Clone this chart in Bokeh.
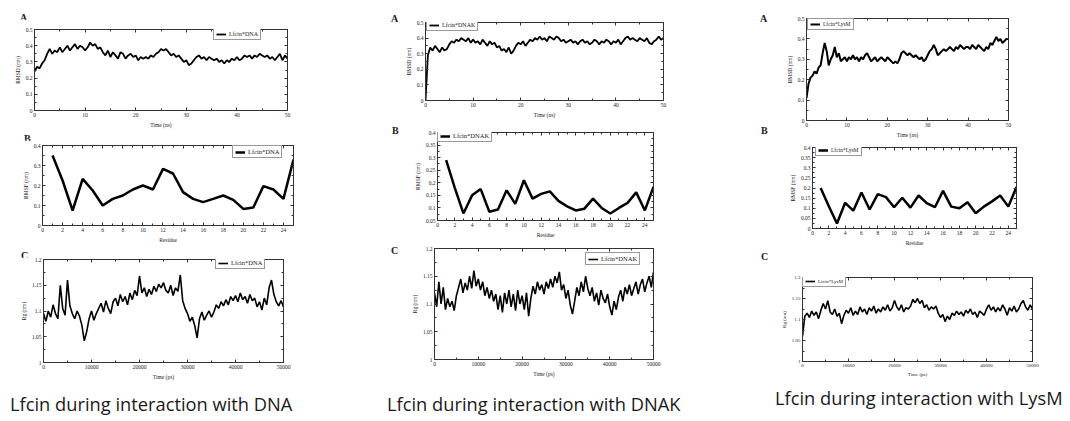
import numpy as np
from bokeh.plotting import figure
from bokeh.layouts import row, column
from bokeh.models import Range1d, LinearAxis, FixedTicker, NumeralTickFormatter, Div, Spacer
from bokeh.embed import file_html
from bokeh.resources import INLINE

# ---------------- data ----------------
TIME_NS = np.linspace(0, 50, 101)
TIME_PS = np.linspace(0, 50000, 101)
RESIDUES = list(range(1, 26))

RMSD_DNA = [
    0.24, 0.27, 0.26, 0.29, 0.31, 0.35, 0.38, 0.35, 0.37, 0.36,
    0.39, 0.36, 0.38, 0.40, 0.37, 0.39, 0.41, 0.38, 0.40, 0.39,
    0.37, 0.39, 0.42, 0.40, 0.41, 0.38, 0.39, 0.36, 0.34, 0.37,
    0.33, 0.36, 0.34, 0.32, 0.36, 0.35, 0.32, 0.34, 0.35, 0.33,
    0.34, 0.31, 0.33, 0.32, 0.33, 0.32, 0.34, 0.33, 0.35, 0.36,
    0.38, 0.37, 0.38, 0.36, 0.34, 0.35, 0.33, 0.34, 0.32, 0.30,
    0.31, 0.28, 0.29, 0.31, 0.33, 0.34, 0.32, 0.33, 0.31, 0.33,
    0.32, 0.31, 0.32, 0.30, 0.31, 0.29, 0.31, 0.30, 0.32, 0.31,
    0.33, 0.31, 0.32, 0.34, 0.33, 0.34, 0.32, 0.34, 0.33, 0.35,
    0.34, 0.33, 0.34, 0.32, 0.33, 0.31, 0.33, 0.35, 0.31, 0.34,
    0.32]
RMSD_DNAK = [
    0.00, 0.29, 0.34, 0.32, 0.35, 0.33, 0.31, 0.34, 0.32, 0.33,
    0.36, 0.38, 0.37, 0.39, 0.38, 0.40, 0.39, 0.38, 0.40, 0.37,
    0.39, 0.37, 0.38, 0.36, 0.39, 0.37, 0.35, 0.38, 0.36, 0.37,
    0.34, 0.35, 0.32, 0.33, 0.31, 0.34, 0.30, 0.32, 0.35, 0.37,
    0.36, 0.38, 0.35, 0.37, 0.39, 0.38, 0.40, 0.39, 0.41, 0.39,
    0.40, 0.38, 0.41, 0.40, 0.39, 0.41, 0.40, 0.38, 0.39, 0.37,
    0.38, 0.39, 0.37, 0.38, 0.36, 0.38, 0.39, 0.37, 0.38, 0.36,
    0.37, 0.39, 0.38, 0.36, 0.38, 0.37, 0.39, 0.38, 0.36, 0.38,
    0.37, 0.39, 0.36, 0.38, 0.40, 0.41, 0.39, 0.40, 0.39, 0.38,
    0.40, 0.39, 0.38, 0.40, 0.37, 0.36, 0.38, 0.39, 0.41, 0.39,
    0.40]
RMSD_LYSM = [
    0.11, 0.18, 0.21, 0.22, 0.24, 0.23, 0.26, 0.27, 0.33, 0.38,
    0.34, 0.27, 0.30, 0.32, 0.36, 0.31, 0.33, 0.29, 0.30, 0.31,
    0.29, 0.31, 0.30, 0.32, 0.30, 0.31, 0.29, 0.31, 0.30, 0.32,
    0.33, 0.31, 0.29, 0.30, 0.31, 0.29, 0.30, 0.31, 0.30, 0.29,
    0.31, 0.30, 0.29, 0.28, 0.29, 0.28, 0.30, 0.33, 0.34, 0.33,
    0.32, 0.33, 0.32, 0.31, 0.32, 0.31, 0.30, 0.31, 0.29, 0.30,
    0.32, 0.34, 0.35, 0.37, 0.35, 0.32, 0.33, 0.34, 0.35, 0.34,
    0.35, 0.36, 0.35, 0.34, 0.36, 0.35, 0.37, 0.36, 0.35, 0.36,
    0.36, 0.35, 0.37, 0.36, 0.35, 0.37, 0.36, 0.35, 0.34, 0.36,
    0.35, 0.38, 0.37, 0.39, 0.41, 0.39, 0.40, 0.38, 0.39, 0.40,
    0.40]

RMSF_DNA = [0.35, 0.225, 0.075, 0.233, 0.175, 0.10, 0.133, 0.15, 0.18, 0.20,
            0.18, 0.283, 0.26, 0.167, 0.133, 0.117, 0.133, 0.15, 0.128, 0.083,
            0.09, 0.197, 0.18, 0.133, 0.33]
RMSF_DNAK = [0.29, 0.18, 0.078, 0.15, 0.175, 0.085, 0.094, 0.17, 0.116, 0.21,
             0.137, 0.156, 0.166, 0.128, 0.106, 0.09, 0.097, 0.137, 0.10, 0.078,
             0.10, 0.12, 0.162, 0.09, 0.184]
RMSF_LYSM = [0.20, 0.11, 0.025, 0.127, 0.088, 0.178, 0.094, 0.17, 0.155, 0.105,
             0.152, 0.103, 0.163, 0.125, 0.105, 0.186, 0.108, 0.10, 0.13, 0.075,
             0.108, 0.134, 0.163, 0.108, 0.205]

RG_DNA = [
    1.095, 1.080, 1.100, 1.088, 1.112, 1.095, 1.085, 1.150, 1.105, 1.092,
    1.160, 1.110, 1.095, 1.085, 1.100, 1.090, 1.072, 1.042, 1.060, 1.085,
    1.100, 1.082, 1.095, 1.105, 1.115, 1.098, 1.120, 1.105, 1.095, 1.118,
    1.125, 1.110, 1.132, 1.118, 1.128, 1.112, 1.135, 1.122, 1.140, 1.130,
    1.168, 1.135, 1.145, 1.128, 1.142, 1.132, 1.148, 1.138, 1.152, 1.145,
    1.155, 1.140, 1.135, 1.150, 1.130, 1.145, 1.138, 1.170, 1.120, 1.105,
    1.095, 1.080, 1.088, 1.072, 1.048, 1.085, 1.098, 1.082, 1.092, 1.100,
    1.088, 1.098, 1.112, 1.105, 1.118, 1.110, 1.122, 1.112, 1.128, 1.120,
    1.130, 1.118, 1.135, 1.122, 1.128, 1.115, 1.132, 1.120, 1.125, 1.108,
    1.118, 1.102, 1.125, 1.112, 1.145, 1.160, 1.132, 1.118, 1.110, 1.120,
    1.108]
RG_DNAK = [
    1.120, 1.095, 1.140, 1.100, 1.130, 1.090, 1.110, 1.095, 1.105, 1.088,
    1.115, 1.130, 1.145, 1.120, 1.138, 1.125, 1.150, 1.128, 1.160, 1.132,
    1.145, 1.125, 1.140, 1.115, 1.130, 1.110, 1.125, 1.105, 1.118, 1.090,
    1.115, 1.085, 1.120, 1.100, 1.125, 1.095, 1.118, 1.088, 1.125, 1.100,
    1.115, 1.090, 1.120, 1.078, 1.110, 1.132, 1.118, 1.140, 1.125, 1.135,
    1.118, 1.140, 1.128, 1.145, 1.130, 1.150, 1.138, 1.158, 1.125, 1.135,
    1.110, 1.125, 1.098, 1.082, 1.105, 1.130, 1.115, 1.140, 1.122, 1.150,
    1.128, 1.115, 1.130, 1.105, 1.120, 1.098, 1.125, 1.110, 1.102, 1.118,
    1.095, 1.080, 1.105, 1.090, 1.112, 1.125, 1.105, 1.130, 1.118, 1.135,
    1.115, 1.128, 1.140, 1.118, 1.135, 1.145, 1.122, 1.138, 1.150, 1.130,
    1.158]
RG_LYSM = [
    1.060, 1.108, 1.115, 1.105, 1.120, 1.110, 1.118, 1.102, 1.122, 1.138,
    1.125, 1.145, 1.118, 1.112, 1.125, 1.108, 1.115, 1.090, 1.110, 1.122,
    1.115, 1.128, 1.110, 1.120, 1.112, 1.130, 1.118, 1.125, 1.112, 1.128,
    1.120, 1.132, 1.115, 1.125, 1.118, 1.130, 1.122, 1.135, 1.120, 1.128,
    1.145, 1.130, 1.122, 1.135, 1.118, 1.128, 1.125, 1.132, 1.148, 1.140,
    1.150, 1.138, 1.145, 1.128, 1.135, 1.122, 1.130, 1.125, 1.132, 1.115,
    1.105, 1.112, 1.095, 1.108, 1.100, 1.115, 1.110, 1.120, 1.112, 1.118,
    1.108, 1.122, 1.115, 1.125, 1.112, 1.118, 1.105, 1.120, 1.115, 1.110,
    1.125, 1.135, 1.122, 1.130, 1.118, 1.128, 1.120, 1.135, 1.125, 1.110,
    1.128, 1.120, 1.132, 1.118, 1.125, 1.138, 1.145, 1.130, 1.122, 1.135,
    1.125]

LEGEND_DNA = "Lfcin*DNA"
LEGEND_DNAK = "Lfcin*DNAK"
LEGEND_LYSM = "Lfcin*LysM"
CAPTIONS = ["Lfcin during interaction with DNA",
            "Lfcin during interaction with DNAK",
            "Lfcin during interaction with LysM"]
LETTERS = ["A", "B", "C"]

TICKS_TIME_NS = [0, 10, 20, 30, 40, 50]
TICKS_TIME_PS = [0, 10000, 20000, 30000, 40000, 50000]
TICKS_RES = [0, 2, 4, 6, 8, 10, 12, 14, 16, 18, 20, 22, 24]
TICKS_RMSD = [0, 0.1, 0.2, 0.3, 0.4, 0.5]
TICKS_RMSF_A = [0, 0.1, 0.2, 0.3, 0.4]
TICKS_RMSF_B = [0.05, 0.1, 0.15, 0.2, 0.25, 0.3, 0.35, 0.4]
TICKS_RMSF_C = [0, 0.05, 0.1, 0.15, 0.2, 0.25, 0.3, 0.35, 0.4]
TICKS_RG = [1, 1.05, 1.1, 1.15, 1.2]

SERIF = "Liberation Serif"
FRAME = "#333333"


def minor_between(ticks):
    return [(a + b) / 2.0 for a, b in zip(ticks[:-1], ticks[1:])]


def panel(w, h, L, R, T, B, xr, yr, xticks, yticks, xminor, yminor,
          xlabel, ylabel, fs="5.5px"):
    p = figure(width=w, height=h, output_backend="svg", toolbar_location=None,
               x_range=Range1d(*xr), y_range=Range1d(*yr),
               x_axis_type=None, y_axis_type=None,
               min_border_left=L, min_border_right=R,
               min_border_top=T, min_border_bottom=B)
    p.frame_align = False
    p.outline_line_color = FRAME
    p.outline_line_width = 1
    p.background_fill_color = "white"
    p.border_fill_color = "white"
    for loc in ["below", "above", "left", "right"]:
        if loc in ("below", "above"):
            ticks, minor = xticks, xminor
            fmt = NumeralTickFormatter(format="0")
        else:
            ticks, minor = yticks, yminor
            fmt = NumeralTickFormatter(format="0.[00]")
        ax = LinearAxis(ticker=FixedTicker(ticks=ticks, minor_ticks=minor), formatter=fmt)
        ax.axis_line_color = FRAME
        ax.major_tick_line_color = FRAME
        ax.minor_tick_line_color = FRAME
        ax.major_tick_in = 3
        ax.major_tick_out = 0
        ax.minor_tick_in = 2
        ax.minor_tick_out = 0
        ax.major_label_text_font = SERIF
        ax.major_label_text_color = "#222222"
        ax.major_label_text_font_size = fs
        ax.major_label_standoff = 2
        if loc in ("below", "left"):
            ax.axis_label = xlabel if loc == "below" else ylabel
            ax.axis_label_text_font = SERIF
            ax.axis_label_text_font_size = fs
            ax.axis_label_text_font_style = "normal"
            ax.axis_label_text_color = "#222222"
            ax.axis_label_standoff = 2
        else:
            ax.major_label_overrides = {t: "" for t in ticks}
            ax.major_label_standoff = 0
        p.add_layout(ax, loc)
    return p


def style_legend(p, loc, size="6px"):
    lg = p.legend[0]
    lg.location = loc
    lg.label_text_font = SERIF
    lg.label_text_font_size = size
    lg.label_text_color = "#222222"
    lg.glyph_width = 10
    lg.glyph_height = 6
    lg.label_height = 6
    lg.label_width = 10
    lg.label_standoff = 3
    lg.padding = 2
    lg.margin = 0
    lg.spacing = 0
    lg.border_line_color = FRAME
    lg.border_line_width = 1
    lg.background_fill_alpha = 1


def letter_div(text, width, pad_left):
    html = ('<div style="font-family:\'Liberation Serif\';font-weight:bold;'
            'font-size:10px;line-height:10px;color:#222;white-space:nowrap;'
            'padding-left:%dpx">%s</div>' % (pad_left, text))
    return Div(text=html, width=width, height=10, margin=0)


def caption_div(text, width, height, pad_left, pad_top):
    html = ('<div style="font-family:\'Open Sans\';font-size:18.3px;line-height:22px;'
            'color:#1a1a1a;white-space:nowrap;padding-left:%dpx;padding-top:%dpx">%s</div>'
            % (pad_left, pad_top, text))
    return Div(text=html, width=width, height=height, margin=0)


X_NS = (0, 50)
X_PS = (0, 50000)
X_RES = (0, 25)
MIN_NS = minor_between(TICKS_TIME_NS)
MIN_PS = minor_between(TICKS_TIME_PS)
MIN_RES = list(range(1, 26, 2))
MIN_RMSD = minor_between(TICKS_RMSD)
MIN_RG = minor_between(TICKS_RG)

# ---------------- column 1 : DNA ----------------
a1 = panel(360, 111, 34, 73, 10, 19, X_NS, (0, 0.5), TICKS_TIME_NS, TICKS_RMSD,
           MIN_NS, MIN_RMSD, "Time (ns)", "RMSD (nm)")
a1.line(TIME_NS, RMSD_DNA, color="black", line_width=1.8, legend_label=LEGEND_DNA)
style_legend(a1, (179, 70))

b1 = panel(360, 107, 42, 67, 5, 22, X_RES, (0, 0.4), TICKS_RES, TICKS_RMSF_A,
           MIN_RES, minor_between(TICKS_RMSF_A), "Residue", "RMSF (nm)")
b1.line(RESIDUES, RMSF_DNA, color="black", line_width=2.5, legend_label=LEGEND_DNA)
style_legend(b1, (190, 67), "6.5px")

c1 = panel(360, 129, 43, 77, 2, 24, X_PS, (1, 1.2), TICKS_TIME_PS, TICKS_RG,
           MIN_PS, MIN_RG, "Time (ps)", "Rg (nm)")
c1.line(TIME_PS, RG_DNA, color="black", line_width=1.6, legend_label=LEGEND_DNA)
style_legend(c1, (172, 93), "6.5px")

col1 = column(Spacer(width=360, height=9), letter_div(LETTERS[0], 360, 20), a1,
              letter_div(LETTERS[1], 360, 24), b1,
              letter_div(LETTERS[2], 360, 21), c1,
              caption_div(CAPTIONS[0], 360, 35, 10, 7))

# ---------------- column 2 : DNAK ----------------
a2 = panel(318, 120, 23, 57, 22, 18, X_NS, (0, 0.5), TICKS_TIME_NS, TICKS_RMSD,
           MIN_NS, MIN_RMSD, "Time (ns)", "RMSD (nm)")
a2.line(TIME_NS, RMSD_DNAK, color="black", line_width=1.8, legend_label=LEGEND_DNAK)
style_legend(a2, (1, 69))

b2 = panel(318, 120, 35, 67, 12, 20, X_RES, (0.05, 0.4), TICKS_RES, TICKS_RMSF_B,
           MIN_RES, minor_between(TICKS_RMSF_B), "Residue", "RMSF (nm)")
b2.line(RESIDUES, RMSF_DNAK, color="black", line_width=2.5, legend_label=LEGEND_DNAK)
style_legend(b2, (0, 78), "6.5px")

c2 = panel(318, 145, 32, 67, 8, 26, X_PS, (1, 1.2), TICKS_TIME_PS, TICKS_RG,
           MIN_PS, MIN_RG, "Time (ps)", "Rg (nm)")
c2.line(TIME_PS, RG_DNAK, color="black", line_width=1.6, legend_label=LEGEND_DNAK)
style_legend(c2, (151, 94), "6.5px")

letters2 = column(Spacer(width=42, height=10), letter_div(LETTERS[0], 42, 31),
                  Spacer(width=42, height=102), letter_div(LETTERS[1], 42, 32),
                  Spacer(width=42, height=110), letter_div(LETTERS[2], 42, 31),
                  Spacer(width=42, height=133))
col2 = column(row(letters2, column(a2, b2, c2)),
              caption_div(CAPTIONS[1], 360, 36, 27, 8))

# ---------------- column 3 : LysM ----------------
a3 = panel(292, 140, 28, 62, 18, 19, X_NS, (0, 0.5), TICKS_TIME_NS, TICKS_RMSD,
           MIN_NS, MIN_RMSD, "Time (ns)", "RMSD (nm)")
a3.line(TIME_NS, RMSD_LYSM, color="black", line_width=2.0, legend_label=LEGEND_LYSM)
style_legend(a3, (1, 90), "5.5px")

b3 = panel(292, 108, 34, 54, 7, 16, X_RES, (0, 0.4), TICKS_RES, TICKS_RMSF_C,
           MIN_RES, minor_between(TICKS_RMSF_C), "Residue", "RMSF (nm)")
b3.line(RESIDUES, RMSF_LYSM, color="black", line_width=2.5, legend_label=LEGEND_LYSM)
style_legend(b3, (3, 72), "5.5px")

c3 = panel(292, 138, 18, 38, 29, 25, X_PS, (1, 1.2), TICKS_TIME_PS, TICKS_RG,
           MIN_PS, MIN_RG, "Time (ps)", "Rg (nm)", fs="5px")
c3.line(TIME_PS, RG_LYSM, color="black", line_width=1.6, legend_label=LEGEND_LYSM)
style_legend(c3, (0, 74), "5px")

letters3 = column(Spacer(width=58, height=10), letter_div(LETTERS[0], 58, 40),
                  Spacer(width=58, height=102), letter_div(LETTERS[1], 58, 41),
                  Spacer(width=58, height=116), letter_div(LETTERS[2], 58, 41),
                  Spacer(width=58, height=128))
col3 = column(row(letters3, column(a3, b3, c3)),
              caption_div(CAPTIONS[2], 350, 35, 55, 1))

layout = row(col1, col2, col3)

open("out.html", "w").write(file_html(layout, INLINE))
